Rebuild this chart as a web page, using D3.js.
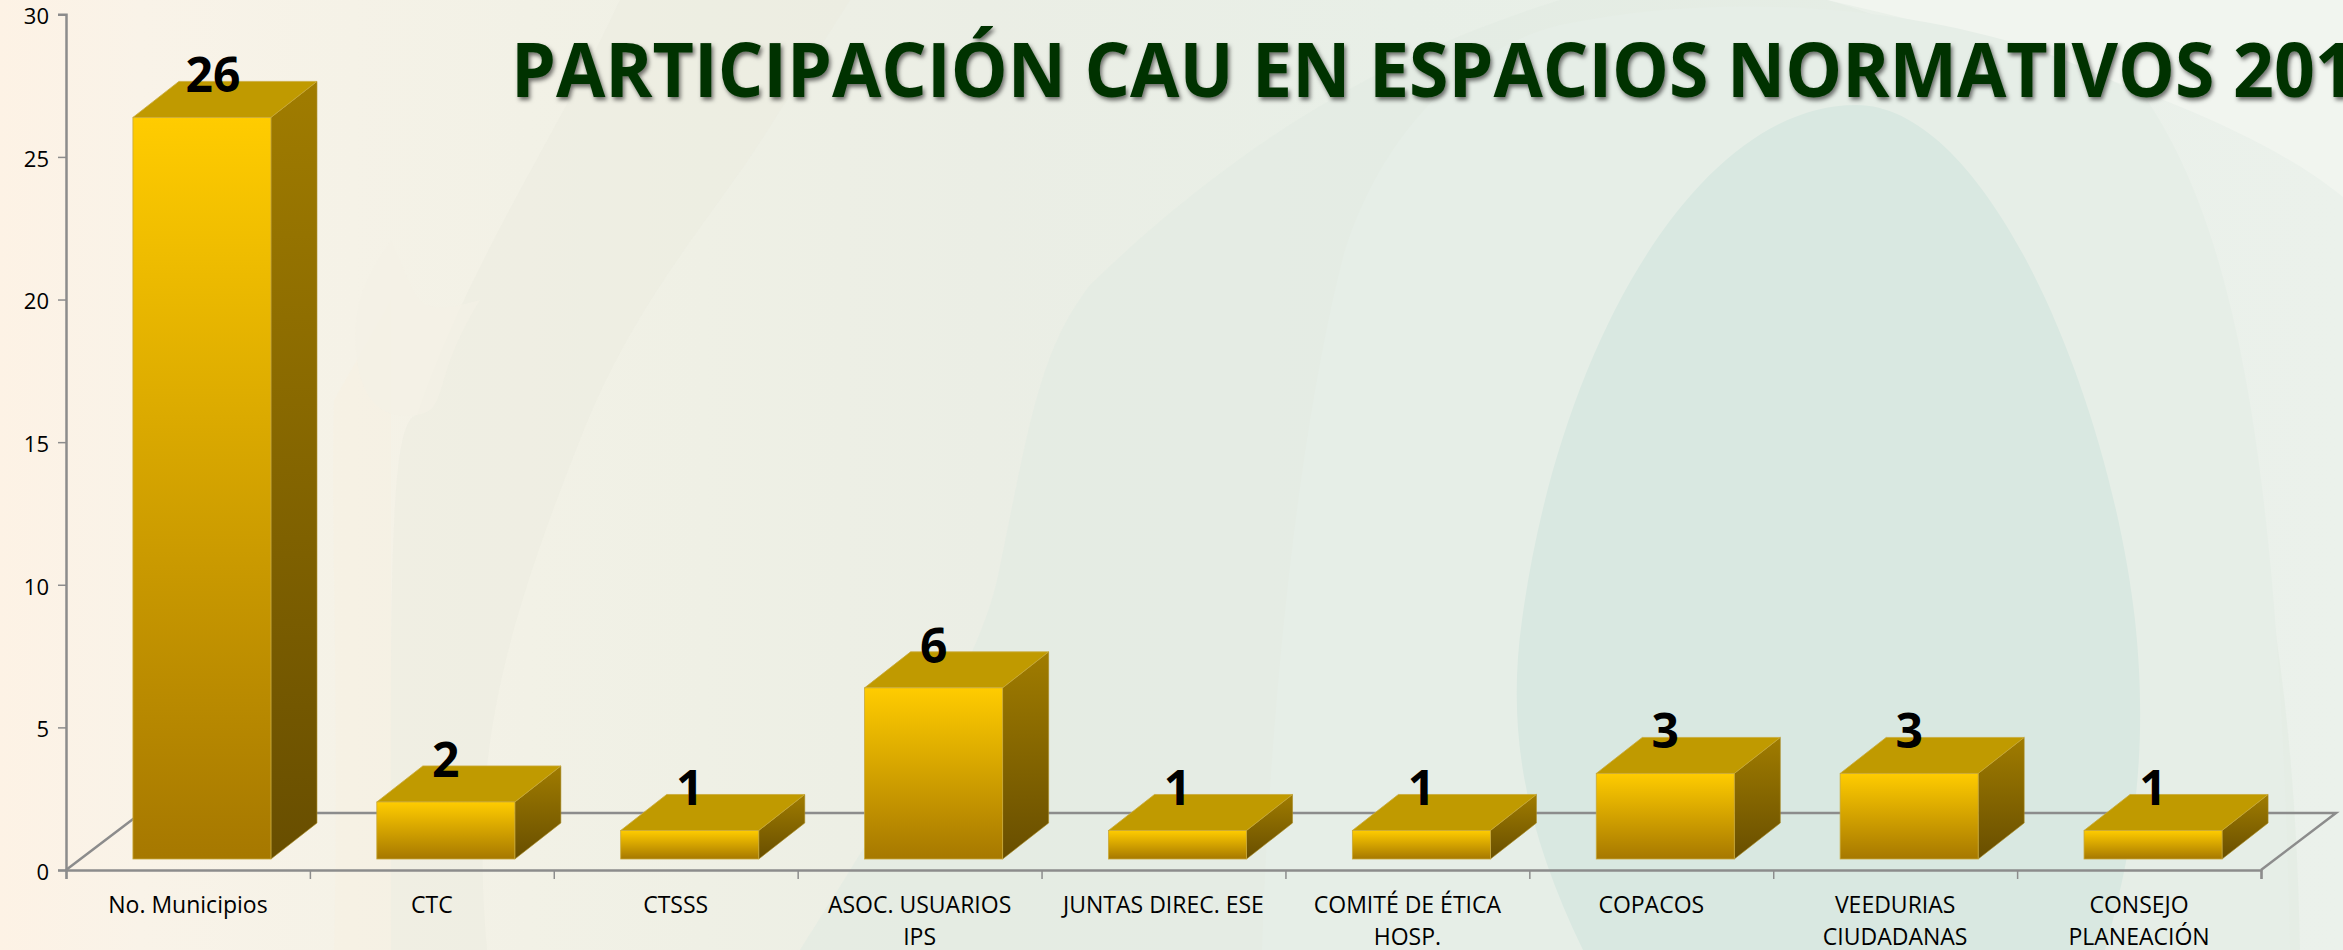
<!DOCTYPE html>
<html><head><meta charset="utf-8">
<script src="https://cdn.jsdelivr.net/npm/d3@7/dist/d3.min.js"></script>
<style>
html,body{margin:0;padding:0;overflow:hidden;background:#eef0e6}
svg{display:block}
text{font-family:"Open Sans",sans-serif}
</style></head><body>
<svg id="c" width="2343" height="950"></svg>
<script>
const titleText = "PARTICIPACIÓN CAU EN ESPACIOS NORMATIVOS 2013";
const categories = ["No. Municipios","CTC","CTSSS","ASOC. USUARIOS IPS","JUNTAS DIREC. ESE","COMITÉ DE ÉTICA HOSP.","COPACOS","VEEDURIAS CIUDADANAS","CONSEJO PLANEACIÓN"];
const categoryLines = [["No. Municipios"],["CTC"],["CTSSS"],["ASOC. USUARIOS","IPS"],["JUNTAS DIREC. ESE"],["COMITÉ DE ÉTICA","HOSP."],["COPACOS"],["VEEDURIAS","CIUDADANAS"],["CONSEJO","PLANEACIÓN"]];
const values = [26,2,1,6,1,1,3,3,1];
const yTicks = [0,5,10,15,20,25,30];

const W=2343,H=950, x0=66,x1=2261,yTop=14.3,yBase=870;
const floorDx=75,floorDy=57, barDx=46,barDy=36, barShiftX=14,barLift=11;
const svg=d3.select("#c");
const defs=svg.append("defs");
function grad(id,stops,horizontal){
  const g=defs.append("linearGradient").attr("id",id).attr("x1",0).attr("y1",0).attr("x2",horizontal?1:0).attr("y2",horizontal?0:1);
  stops.forEach(s=>g.append("stop").attr("offset",s[0]).attr("stop-color",s[1]));
}
grad("bg",[[0,"#fdf2e5"],[0.06,"#f9f3e8"],[0.15,"#f5f2e7"],[0.3,"#eff0e5"],[0.42,"#ebeee5"],[0.6,"#e8efe7"],[1,"#ebf1eb"]],true);
grad("front",[[0,"#ffcc00"],[1,"#a67800"]]);
grad("side",[[0,"#a07c00"],[1,"#684e00"]]);
const shadow=defs.append("filter").attr("id","ts").attr("x","-5%").attr("y","-20%").attr("width","110%").attr("height","140%");
shadow.append("feDropShadow").attr("dx",2).attr("dy",3).attr("stdDeviation",2).attr("flood-color","#000").attr("flood-opacity",.55);

// background
svg.append("rect").attr("width",W).attr("height",H).attr("fill","url(#bg)");
const bgShapes=[
 ["M2343 0L1827 0C2050 50 2250 120 2343 197Z","#f1f5ef",1],
 ["M487 950C470 760 500 640 583 432C640 290 720 210 774 120L850 0L620 0C560 130 470 260 417 415C390 420 390 560 391 950Z","#ecebdf",.5],
 ["M334 950C340 700 330 520 334 400L391 300L391 950Z","#f8efe2",.4],
 ["M356 350C352 300 370 270 391 240C420 300 410 320 480 300C430 380 450 410 417 415C380 420 360 400 356 350Z","#f3f1e6",.7],
 ["M800 950C920 760 985 650 1000 566C1030 420 1040 350 1090 285C1250 130 1400 50 1560 0L1827 0C2150 90 2290 400 2300 950Z","#e2ebe3",.7],
 ["M1262 950C1270 700 1300 420 1345 250C1380 140 1460 50 1560 25C1750 -15 2000 10 2147 100C2240 240 2280 480 2290 950Z","#e6eee7",1],
 ["M1583 950C1530 840 1505 740 1522 620C1560 340 1700 105 1856 105C1990 105 2110 400 2135 620C2150 760 2130 860 2105 950Z","#d9e8e1",1]
];
svg.append("g").selectAll("path").data(bgShapes).join("path").attr("d",d=>d[0]).attr("fill",d=>d[1]).attr("opacity",d=>d[2]);

const y=d3.scaleLinear().domain([0,30]).range([yBase,yTop]);
const x=d3.scaleBand().domain(categories).range([x0,x1]).paddingInner(.434).paddingOuter(.217);
const step=x.step();
const axisCol="#8c8c8c";

// floor
svg.append("path").attr("fill","none").attr("stroke",axisCol).attr("stroke-width",2.5)
 .attr("d",d3.line()([[x0,yBase],[x0+floorDx,yBase-floorDy],[x1+floorDx,yBase-floorDy],[x1,yBase]]));

// axes
const gy=svg.append("g").attr("transform",`translate(${x0},0)`).call(d3.axisLeft(y).tickValues(yTicks).tickSize(8).tickPadding(17-8));
const gx=svg.append("g").attr("transform",`translate(0,${yBase})`).call(d3.axisBottom(d3.scalePoint().domain(d3.range(categories.length+1)).range([x0,x1])).tickSize(9).tickFormat(""));
[gy,gx].forEach(g=>{g.selectAll(".domain").attr("stroke",axisCol).attr("stroke-width",2.5);g.selectAll("line").attr("stroke",axisCol).attr("stroke-width",1.5);});
gy.selectAll("text").attr("font-size",22).attr("fill","#000").attr("dy","0.42em").style("font-family",'"Open Sans",sans-serif');

// bars
const bars=svg.append("g").selectAll("g").data(values).join("g");
const bx=i=>x(categories[i])+barShiftX, bw=x.bandwidth();
const bb=yBase-barLift, bt=v=>y(v)-barLift;
const edge="#c9a93a";
bars.append("path").attr("fill","url(#side)").attr("stroke","#a88a20").attr("stroke-width",.6)
 .attr("d",(v,i)=>d3.line()([[bx(i)+bw,bt(v)],[bx(i)+bw+barDx,bt(v)-barDy],[bx(i)+bw+barDx,bb-barDy],[bx(i)+bw,bb]])+"Z");
bars.append("path").attr("fill","#c09a00").attr("stroke",edge).attr("stroke-width",.8)
 .attr("d",(v,i)=>d3.line()([[bx(i),bt(v)],[bx(i)+barDx,bt(v)-barDy],[bx(i)+bw+barDx,bt(v)-barDy],[bx(i)+bw,bt(v)]])+"Z");
bars.append("rect").attr("x",(v,i)=>bx(i)).attr("y",v=>bt(v)).attr("width",bw).attr("height",v=>bb-bt(v))
 .attr("fill","url(#front)").attr("stroke",edge).attr("stroke-width",.8);

// value labels
bars.append("text").attr("x",(v,i)=>bx(i)+bw/2+(i===0?11:0)).attr("y",v=>bt(v)-25+0)
 .attr("text-anchor","middle").attr("font-size",48).attr("font-weight",700).attr("fill","#000").text(v=>v);

// category labels
const lab=svg.append("g").selectAll("text").data(categoryLines).join("text")
 .attr("text-anchor","middle").attr("font-size",23).attr("fill","#000");
lab.each(function(lines,i){
  const cx=x0+step*(i+.5);
  d3.select(this).selectAll("tspan").data(lines).join("tspan").attr("x",cx).attr("y",(l,j)=>913+j*32).text(l=>l);
});

// title
svg.append("text").attr("transform","translate(511,97) scale(.942,1)").attr("font-size",76).attr("font-weight",700).attr("fill","#033303")
 .attr("filter","url(#ts)").text(titleText);
</script>
</body></html>
